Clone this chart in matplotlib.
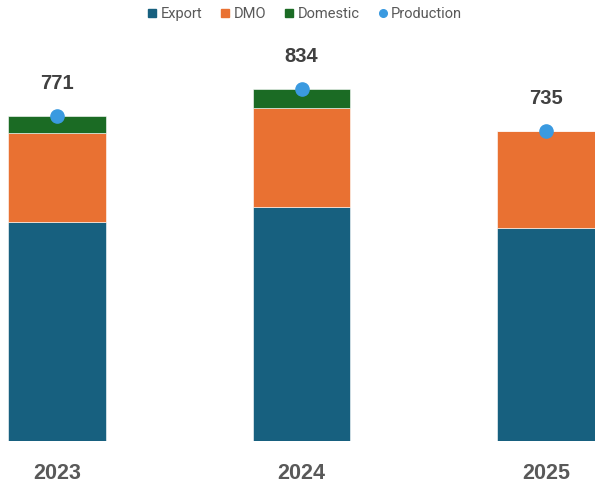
import numpy as np
from matplotlib import pyplot as plt
from matplotlib.lines import Line2D
from matplotlib import font_manager

years = ['2023', '2024', '2025']
export = [518, 555, 504]
dmo = [213, 233, 231]
domestic = [40, 46, 0]
production = [771, 834, 735]

c_export = '#17607F'
c_dmo = '#E97132'
c_dom = '#1B6B24'
c_prod = '#3A9AE0'

names = {f.name for f in font_manager.fontManager.ttflist}
narrow = 'Liberation Sans Narrow' in names
year_font = 'Liberation Sans Narrow' if narrow else 'Liberation Sans'
year_size = 17 if narrow else 15.5

fig = plt.figure(figsize=(5.95, 4.84), dpi=100)
ax = fig.add_axes([0, 42.7 / 484, 1, 441.3 / 484])

x = np.arange(len(years))
w = 0.4
ax.bar(x, export, w, color=c_export, edgecolor='white', linewidth=0.4)
ax.bar(x, dmo, w, bottom=export, color=c_dmo, edgecolor='white', linewidth=0.4)
bot2 = np.array(export) + np.array(dmo)
ax.bar(x, domestic, w, bottom=bot2, color=c_dom, edgecolor='white', linewidth=0.4)
ax.plot(x, production, 'o', color=c_prod, markersize=9.5, zorder=5)

for xi, p in zip(x, production):
    ax.text(xi, p + 77, str(p), ha='center', va='center', fontsize=14.5,
            fontweight='bold', color='#404040', family='Liberation Sans')

ax.set_xlim(-0.233, 2.2)
ax.set_ylim(0, 1044.7)
ax.set_xticks(x)
ax.set_xticklabels(years)
for lab in ax.get_xticklabels():
    lab.set_fontsize(year_size)
    lab.set_fontweight('bold')
    lab.set_color('#595959')
    lab.set_family(year_font)
ax.tick_params(axis='x', length=0, pad=15.5)
ax.set_yticks([])
for s in ax.spines.values():
    s.set_visible(False)

handles = [
    Line2D([], [], marker='s', linestyle='', color=c_export, markersize=5.5),
    Line2D([], [], marker='s', linestyle='', color=c_dmo, markersize=5.5),
    Line2D([], [], marker='s', linestyle='', color=c_dom, markersize=5.5),
    Line2D([], [], marker='o', linestyle='', color=c_prod, markersize=5.5),
]
leg = fig.legend(handles, ['Export', 'DMO', 'Domestic', 'Production'], loc='center',
                 bbox_to_anchor=(0.51, 1 - 14 / 484), ncol=4, frameon=False,
                 handletextpad=0.05, columnspacing=1.1, handlelength=1.0,
                 prop={'family': 'Roboto', 'size': 10.5})
for t in leg.get_texts():
    t.set_color('#595959')

plt.savefig('out.png', dpi=100)
